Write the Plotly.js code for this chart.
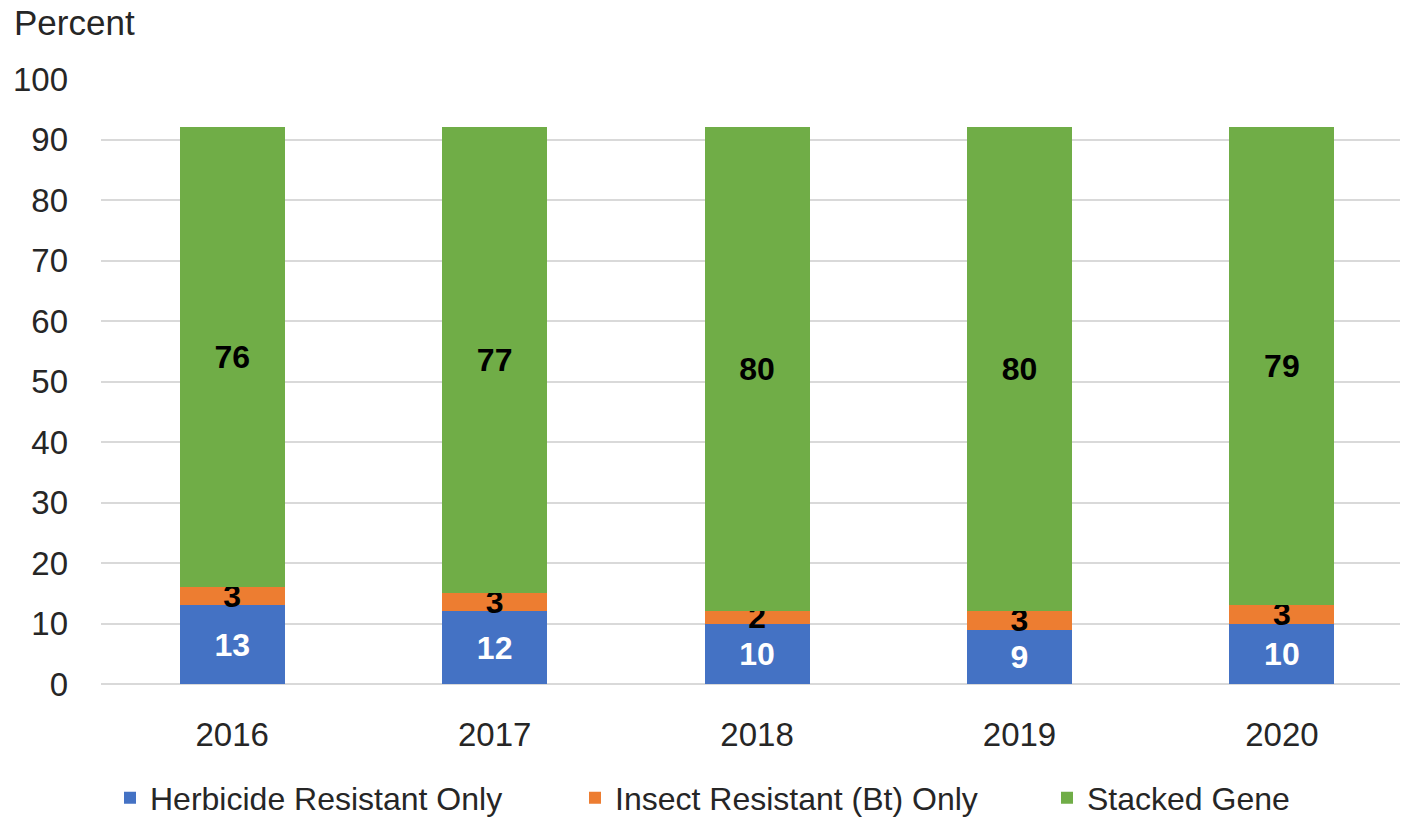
<!DOCTYPE html>
<html>
<head>
<meta charset="utf-8">
<script src="https://cdn.plot.ly/plotly-3.0.1.min.js"></script>
<style>html,body{margin:0;padding:0;background:#fff;}#chart{width:1401px;height:822px;}</style>
</head>
<body>
<div id="chart"></div>
<script>
const years = ['2016', '2017', '2018', '2019', '2020'];
const herbicide = [13, 12, 10, 9, 10];
const insect = [3, 3, 2, 3, 3];
const stacked = [76, 77, 80, 80, 79];
const seriesNames = ['Herbicide Resistant Only', 'Insect Resistant (Bt) Only', 'Stacked Gene'];
const yTicks = [0, 10, 20, 30, 40, 50, 60, 70, 80, 90, 100];

const FONT = 'Liberation Sans, Arial, sans-serif';
const LBL = 32;

function barTrace(name, vals, color, txtColor, legendId) {
  return {
    type: 'bar', name: name, x: years, y: vals,
    marker: {color: color, line: {width: 0}},
    width: 0.4,
    text: vals.map(String),
    textposition: 'inside',
    insidetextanchor: 'middle',
    textangle: 0,
    constraintext: 'none',
    textfont: {family: FONT, size: LBL, color: txtColor, weight: 'bold'},
    hoverinfo: 'skip',
    legend: legendId
  };
}

const data = [
  barTrace(seriesNames[0], herbicide, '#4472C4', '#ffffff', 'legend'),
  barTrace(seriesNames[1], insect, '#ED7D31', '#000000', 'legend2'),
  barTrace(seriesNames[2], stacked, '#70AD47', '#000000', 'legend3')
];

function leg(xpx) {
  return {
    orientation: 'h', xref: 'container', yref: 'container',
    x: xpx / 1401, xanchor: 'left', y: 24 / 822, yanchor: 'middle',
    font: {family: FONT, size: 32, color: '#262626'},
    bgcolor: 'rgba(0,0,0,0)'
  };
}

const layout = {
  width: 1401, height: 822,
  margin: {l: 101, r: 1, t: 79, b: 138},
  paper_bgcolor: '#ffffff', plot_bgcolor: '#ffffff',
  barmode: 'stack',
  bargap: 0.6,
  font: {family: FONT, size: 32, color: '#262626'},
  uniformtext: {mode: 'show', minsize: LBL},
  xaxis: {
    type: 'category', range: [-0.5, 4.45],
    showgrid: false, showline: false, zeroline: false, ticks: '',
    tickfont: {family: FONT, size: 33, color: '#262626'},
    ticklabelstandoff: 28
  },
  yaxis: {
    range: [0, 100], tickvals: yTicks, ticktext: yTicks.map(String),
    showgrid: true, gridcolor: '#d9d9d9', gridwidth: 2,
    zeroline: true, zerolinecolor: '#d9d9d9', zerolinewidth: 2,
    showline: false, ticks: '',
    tickfont: {family: FONT, size: 33, color: '#262626'},
    ticklabelstandoff: 32
  },
  legend: leg(110),
  legend2: leg(575),
  legend3: leg(1047),
  annotations: [{
    text: 'Percent', xref: 'paper', yref: 'paper',
    x: -0.0685, y: 1.094, xanchor: 'left', yanchor: 'middle',
    showarrow: false, font: {family: FONT, size: 35, color: '#262626'}
  }],
  showlegend: true
};

Plotly.newPlot('chart', data, layout, {displayModeBar: false, staticPlot: true});
</script>
</body>
</html>
